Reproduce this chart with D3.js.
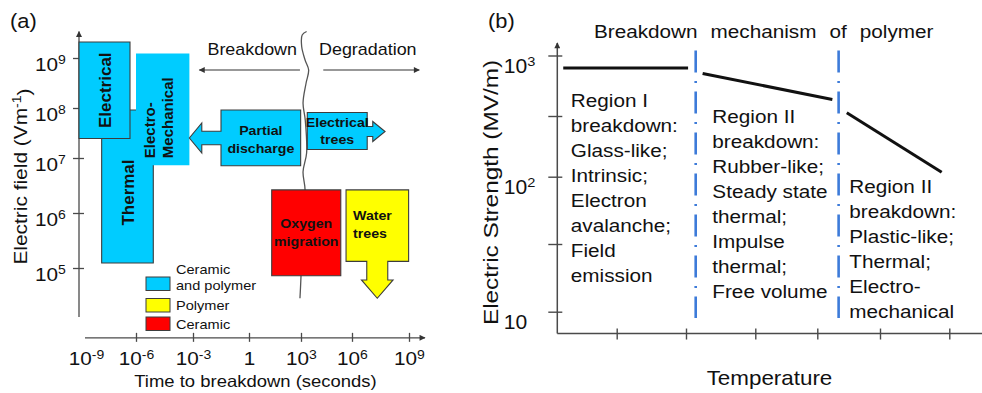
<!DOCTYPE html>
<html>
<head>
<meta charset="utf-8">
<script src="https://cdn.jsdelivr.net/npm/d3@7"></script>
<style>
  html, body { margin: 0; padding: 0; background: #fff; }
  svg { display: block; font-family: Arial, "Liberation Sans", sans-serif; }
</style>
</head>
<body>
<svg id="fig" width="982" height="393"></svg>
<script>
// ===================== data =====================
// Panel (a): failure mechanisms, spans given as log10(time / s) and log10(field / V m^-1)
const timeTickExp  = [-9, -6, -3, 0, 3, 6, 9];
const fieldTickExp = [9, 8, 7, 6, 5];

const mechNames     = ["Thermal", "Electrical", "Electro-\nMechanical", "Partial\ndischarge",
                       "Electrical\ntrees", "Oxygen\nmigration", "Water\ntrees"];
const mechClass     = ["both", "both", "both", "both", "both", "ceramic", "polymer"];
const mechTimeFrom  = [-8.06, -9.42, -6.00, -1.50, 3.37, 1.31, 5.65];
const mechTimeTo    = [-5.09, -6.36, -3.19,  2.98, 6.80, 5.34, 8.98];
const mechFieldLow  = [ 5.09,  7.39,  6.87,  6.86, 7.17, 4.86, 5.12];
const mechFieldHigh = [ 7.96,  9.32,  9.09,  7.96, 7.91, 6.42, 6.42];
// arrow tips (log10 s, log10 V/m); null where the mechanism is a plain box
const mechArrowTime  = [null, null, null, -3.19, 7.74, null, 7.33];
const mechArrowField = [null, null, null,  7.40, 7.53, null, 4.45];

const classNames = ["both", "polymer", "ceramic"];
const classLabels = ["Ceramic\nand polymer", "Polymer", "Ceramic"];

// breakdown / degradation divide (log10 s, log10 V/m)
const divideTime  = [3.33, 3.07, 3.04, 3.24, 3.45, 3.30, 3.12, 3.25, 3.33, 3.12, 3.24, 3.06, 3.00, 2.94];
const divideField = [9.53, 9.46, 9.23, 8.96, 8.76, 8.50, 8.10, 7.76, 7.10, 6.75, 6.42, 5.50, 4.85, 4.45];
const regimeArrowField = 8.76;
const breakdownArrowTime   = [2.94, -2.66];
const degradationArrowTime = [4.31, 9.54];

// Panel (b): electric strength (MV/m) vs temperature (arbitrary tick units)
const tempTicks      = [1, 2, 3, 4, 5, 6];
const strengthTicks  = [10, 31.6, 100, 316, 1000];
const strengthLabels = [["10", ""], null, ["10", "2"], null, ["10", "3"]];
const regimeTempFrom = [0.10, 2.24, 4.47];
const regimeTempTo   = [2.03, 4.24, 5.89];
const regimeEsFrom   = [790, 710, 336];
const regimeEsTo     = [790, 433, 109];
const transitionTemp = [2.14, 4.34];
const regionLines = [
  ["Region I", "breakdown:", "Glass-like;", "Intrinsic;", "Electron", "avalanche;", "Field", "emission"],
  ["Region II", "breakdown:", "Rubber-like;", "Steady state", "thermal;", "Impulse", "thermal;", "Free volume"],
  ["Region II", "breakdown:", "Plastic-like;", "Thermal;", "Electro-", "mechanical"]
];

// ===================== styles / layout =====================
const SX = 1.12;                 // horizontal glyph stretch used for the lettering
const ink = "#111";
const axisInk = "#4a4a4a";
const classFill = { both: "#00CCFF", polymer: "#FFFF00", ceramic: "#FF0000" };
const boxStroke = "#3c3c3c";

const svg = d3.select("#fig");

function addText(parent, o) {
  const lines = Array.isArray(o.lines) ? o.lines : String(o.lines).split("\n");
  const t = parent.append("text")
    .attr("transform", `translate(${o.x},${o.y}) rotate(${o.rotate || 0}) scale(${o.sx == null ? SX : o.sx},1)`)
    .attr("font-size", o.size)
    .attr("font-weight", o.weight || "normal")
    .attr("text-anchor", o.anchor || "start")
    .attr("fill", o.fill || ink);
  if (o.wordSpacing) t.attr("word-spacing", o.wordSpacing);
  lines.forEach((ln, i) => {
    t.append("tspan").attr("x", 0).attr("y", i * (o.lineHeight || 0)).attr("dy", o.dy || 0).text(ln);
  });
  return t;
}

function powerLabel(sel, base, exp, supSize) {
  sel.append("tspan").text(base);
  if (exp !== "") sel.append("tspan").attr("font-size", supSize).attr("dy", "-0.5em").text(exp);
}

// arrowhead marker
const defs = svg.append("defs");
defs.append("marker").attr("id", "head").attr("viewBox", "0 0 10 10")
  .attr("refX", 9).attr("refY", 5).attr("markerWidth", 8).attr("markerHeight", 6)
  .attr("markerUnits", "userSpaceOnUse").attr("orient", "auto")
  .append("path").attr("d", "M0,0 L10,5 L0,10 z").attr("fill", "#333");

// ===================== panel (a) =====================
const gA = svg.append("g");
const xA = d3.scaleLinear().domain(timeTickExp).range([86, 136, 193, 249, 301, 352, 409]);
const yA = d3.scaleLinear().domain(fieldTickExp).range([58, 108, 158, 213, 268]);
const fieldAxisAtTime = -9.42, fieldAxisExtent = [4.11, 9.53];
const timeAxisAtField = 3.73,  timeAxisExtent  = [-9.06, 9.84];

addText(gA, { x: 10, y: 28, lines: "(a)", size: 19.5 });

// y axis
gA.append("line")
  .attr("x1", xA(fieldAxisAtTime)).attr("x2", xA(fieldAxisAtTime))
  .attr("y1", yA(fieldAxisExtent[0])).attr("y2", yA(fieldAxisExtent[1]))
  .attr("stroke", axisInk).attr("stroke-width", 1.3).attr("marker-end", "url(#head)");
const gyA = gA.append("g").attr("transform", `translate(${xA(fieldAxisAtTime)},0)`)
  .call(d3.axisLeft(yA).tickValues(fieldTickExp).tickSizeOuter(0).tickFormat(() => ""));
gyA.select(".domain").remove();
gyA.selectAll(".tick line").attr("x1", -6).attr("x2", 5).attr("stroke", axisInk).attr("stroke-width", 1.3);
gyA.selectAll(".tick").each(function (d) {
  const t = addText(d3.select(this), { x: -44, y: 12, lines: [], size: 18.5 });
  powerLabel(t, "10", String(d), 12.5);
});

// x axis
gA.append("line")
  .attr("x1", xA(timeAxisExtent[0])).attr("x2", xA(timeAxisExtent[1]))
  .attr("y1", yA(timeAxisAtField)).attr("y2", yA(timeAxisAtField))
  .attr("stroke", axisInk).attr("stroke-width", 1.3).attr("marker-end", "url(#head)");
const gxA = gA.append("g").attr("transform", `translate(0,${yA(timeAxisAtField)})`)
  .call(d3.axisBottom(xA).tickValues(timeTickExp).tickSizeOuter(0).tickFormat(() => ""));
gxA.select(".domain").remove();
gxA.selectAll(".tick line").attr("y1", -5).attr("y2", 4).attr("stroke", axisInk).attr("stroke-width", 1.3)
  .attr("display", d => d === timeTickExp[0] ? "none" : null);
gxA.selectAll(".tick").each(function (d) {
  const t = addText(d3.select(this), { x: 0, y: 27, lines: [], size: 18.5, anchor: "middle" });
  if (d === 0) powerLabel(t, "1", "", 12.5);
  else powerLabel(t, "10", String(d), 12.5);
});

addText(gA, { x: 255.5, y: 387, lines: "Time to breakdown (seconds)", size: 16.5, anchor: "middle" });
{
  const t = addText(gA, { x: 27, y: 176.5, lines: [], size: 18.5, anchor: "middle", rotate: -90, sx: 1.13 });
  t.append("tspan").text("Electric field (Vm");
  t.append("tspan").attr("font-size", 12.5).attr("dy", "-0.5em").text("-1");
  t.append("tspan").attr("dy", "0.5em").text(")");
}

// breakdown / degradation divide
const divideLine = d3.line().x(d => xA(d[0])).y(d => yA(d[1])).curve(d3.curveCatmullRom.alpha(0.5));
gA.append("path")
  .attr("d", divideLine(divideTime.map((t, i) => [t, divideField[i]])))
  .attr("fill", "none").attr("stroke", "#555").attr("stroke-width", 1.3);

[breakdownArrowTime, degradationArrowTime].forEach(span => {
  gA.append("line")
    .attr("x1", xA(span[0])).attr("x2", xA(span[1]))
    .attr("y1", yA(regimeArrowField)).attr("y2", yA(regimeArrowField))
    .attr("stroke", "#333").attr("stroke-width", 1.2).attr("marker-end", "url(#head)");
});
addText(gA, { x: xA(2.77), y: yA(9.06), lines: "Breakdown", size: 16, anchor: "end" });
addText(gA, { x: xA(4.06), y: yA(9.06), lines: "Degradation", size: 16 });

// arrow proportions (px): head half-width, shaft half-width, head length
const arrowShape = {
  "Partial\ndischarge": [15, 6.7, 12.4],
  "Electrical\ntrees":  [10, 5, 12.3],
  "Water\ntrees":       [15.8, 10.5, 18.3]
};
// label placement: rotated or not, anchor, reference point on the box, offset, line height
const labelStyle = {
  "Thermal":               { rotate: true,  size: 17,   anchor: "middle", ref: "center", dx: 0, dy: 6 },
  "Electrical":            { rotate: true,  size: 17,   anchor: "middle", ref: "center", dx: 0, dy: 0 },
  "Electro-\nMechanical":  { rotate: true,  size: 15,   anchor: "start",  ref: "bottomleft", dx: 19, dy: -7, lh: 17.7 },
  "Partial\ndischarge":    { rotate: false, size: 13.5, anchor: "middle", ref: "center", dx: 0, dy: -3, lh: 18.3 },
  "Electrical\ntrees":     { rotate: false, size: 13.5, anchor: "middle", ref: "center", dx: 0, dy: -4.5, lh: 17.5 },
  "Oxygen\nmigration":     { rotate: false, size: 13.5, anchor: "middle", ref: "center", dx: 0, dy: -4.7, lh: 18.4 },
  "Water\ntrees":          { rotate: false, size: 13.5, anchor: "start",  ref: "topleft", dx: 7, dy: 30, lh: 18.3 }
};

mechNames.forEach((name, i) => {
  const x0 = xA(mechTimeFrom[i]), x1 = xA(mechTimeTo[i]);
  const y0 = yA(mechFieldHigh[i]), y1 = yA(mechFieldLow[i]);
  let pts = [[x0, y0], [x1, y0], [x1, y1], [x0, y1]];
  if (mechArrowTime[i] != null) {
    const tx = xA(mechArrowTime[i]), ty = yA(mechArrowField[i]);
    const [h, s, L] = arrowShape[name];
    if (tx < x0) {            // pointing left
      const b = tx + L;
      pts = [[x0, y0], [x1, y0], [x1, y1], [x0, y1], [x0, ty + s], [b, ty + s], [b, ty + h], [tx, ty],
             [b, ty - h], [b, ty - s], [x0, ty - s]];
    } else if (tx > x1) {     // pointing right
      const b = tx - L;
      pts = [[x0, y0], [x1, y0], [x1, ty - s], [b, ty - s], [b, ty - h], [tx, ty], [b, ty + h],
             [b, ty + s], [x1, ty + s], [x1, y1], [x0, y1]];
    } else {                  // pointing down
      const b = ty - L;
      pts = [[x0, y0], [x1, y0], [x1, y1], [tx + s, y1], [tx + s, b], [tx + h, b], [tx, ty],
             [tx - h, b], [tx - s, b], [tx - s, y1], [x0, y1]];
    }
  }
  const outlined = name !== "Electro-\nMechanical";
  gA.append("path")
    .attr("d", "M" + pts.map(p => p.join(",")).join("L") + "Z")
    .attr("fill", classFill[mechClass[i]])
    .attr("stroke", outlined ? boxStroke : "none")
    .attr("stroke-width", 1.1)
    .attr("stroke-linejoin", "miter");

  const st = labelStyle[name];
  const cx = (x0 + x1) / 2, cy = (y0 + y1) / 2;
  let px, py;
  if (st.ref === "center") { px = cx + st.dx; py = cy + st.dy; }
  else if (st.ref === "bottomleft") { px = x0 + st.dx; py = y1 + st.dy; }
  else { px = x0 + st.dx; py = y0 + st.dy; }
  const lines = name.split("\n");
  if (st.rotate) {
    addText(gA, {
      x: px, y: py, lines, size: st.size, weight: "bold", anchor: st.anchor, rotate: -90, sx: 1,
      lineHeight: st.lh || 0, dy: lines.length === 1 ? "0.36em" : 0
    });
  } else {
    addText(gA, { x: px, y: py, lines, size: st.size, weight: "bold", anchor: st.anchor,
                  lineHeight: st.lh, sx: 1.05 });
  }
});

// legend
const legend = gA.append("g").attr("transform", "translate(146,0)");
const legendRows = [
  { swatchTop: 277, textBase: [274, 290] },
  { swatchTop: 298.5, textBase: [310] },
  { swatchTop: 317, textBase: [329] }
];
classNames.forEach((c, i) => {
  legend.append("rect").attr("x", 0).attr("y", legendRows[i].swatchTop).attr("width", 24).attr("height", 13.5)
    .attr("fill", classFill[c]).attr("stroke", boxStroke).attr("stroke-width", 1);
  classLabels[i].split("\n").forEach((ln, k) => {
    addText(legend, { x: 30, y: legendRows[i].textBase[k], lines: ln, size: 13 });
  });
});

// ===================== panel (b) =====================
const gB = svg.append("g");
const xB = d3.scaleLinear().domain([0, 1, 2, 3, 4, 5, 6]).range([557.3, 616.7, 686, 755.3, 817.3, 880, 949.3]);
const yB = d3.scaleLog().domain(strengthTicks).range([311.7, 244, 176.7, 116, 55.5]);
const strengthAxisExtent = [6.9, 1270];
const tempAxisExtent = [0, 6.5];

addText(gB, { x: 488, y: 28, lines: "(b)", size: 19.5 });
addText(gB, { x: 594, y: 38, lines: "Breakdown mechanism of polymer", size: 18.5, wordSpacing: 6.5 });

// y axis
gB.append("line")
  .attr("x1", xB(0)).attr("x2", xB(0))
  .attr("y1", yB(strengthAxisExtent[0])).attr("y2", yB(strengthAxisExtent[1]))
  .attr("stroke", axisInk).attr("stroke-width", 1.5).attr("marker-end", "url(#head)");
const gyB = gB.append("g").attr("transform", `translate(${xB(0)},0)`)
  .call(d3.axisLeft(yB).tickValues(strengthTicks).tickSizeOuter(0).tickFormat(() => ""));
gyB.select(".domain").remove();
gyB.selectAll(".tick line").attr("x1", -9).attr("x2", 5).attr("stroke", axisInk).attr("stroke-width", 1.4);
gyB.selectAll(".tick").each(function (d, i) {
  const lab = strengthLabels[i];
  if (!lab) return;
  const t = addText(d3.select(this), { x: -53.5, y: 17, lines: [], size: 19.5, sx: 1.08 });
  powerLabel(t, lab[0], lab[1], 13.5);
});

// x axis
gB.append("line")
  .attr("x1", xB(tempAxisExtent[0])).attr("x2", xB(tempAxisExtent[1]))
  .attr("y1", yB(strengthAxisExtent[0])).attr("y2", yB(strengthAxisExtent[0]))
  .attr("stroke", axisInk).attr("stroke-width", 1.5);
const gxB = gB.append("g").attr("transform", `translate(0,${yB(strengthAxisExtent[0])})`)
  .call(d3.axisBottom(xB).tickValues(tempTicks).tickSizeOuter(0).tickFormat(() => ""));
gxB.select(".domain").remove();
gxB.selectAll(".tick line").attr("y1", -5).attr("y2", 6).attr("stroke", axisInk).attr("stroke-width", 1.4);

addText(gB, { x: 769.5, y: 385, lines: "Temperature", size: 20, anchor: "middle" });
addText(gB, { x: 497.5, y: 192.5, lines: "Electric Strength (MV/m)", size: 21, anchor: "middle", rotate: -90, sx: 1.16 });

// transition markers
transitionTemp.forEach(t => {
  gB.append("line")
    .attr("x1", xB(t)).attr("x2", xB(t))
    .attr("y1", yB(1100)).attr("y2", yB(9))
    .attr("stroke", "#3D7BD9").attr("stroke-width", 2.6)
    .attr("stroke-dasharray", "22 8.5 2 8.5");
});

// strength in each regime
regimeTempFrom.forEach((t0, i) => {
  gB.append("line")
    .attr("x1", xB(t0)).attr("x2", xB(regimeTempTo[i]))
    .attr("y1", yB(regimeEsFrom[i])).attr("y2", yB(regimeEsTo[i]))
    .attr("stroke", "#111").attr("stroke-width", 3);
});

// region descriptions
const regionAnchorTemp = [0.228, 2.38, 4.51];
const regionFirstBase = [107, 123.3, 193.3];
regionLines.forEach((lines, i) => {
  addText(gB, { x: xB(regionAnchorTemp[i]), y: regionFirstBase[i], lines, size: 18.5, lineHeight: 25 });
});
</script>
</body>
</html>
